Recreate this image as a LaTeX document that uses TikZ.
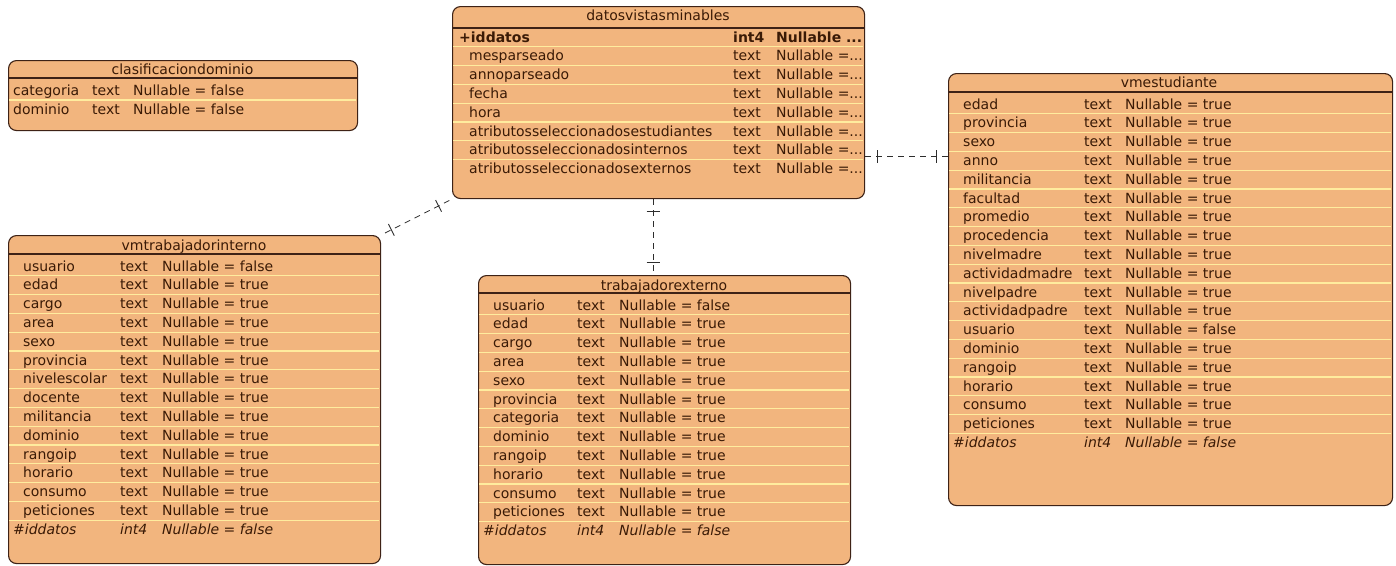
\documentclass[tikz,border=0pt]{standalone}
\usepackage{fontspec}
\setmainfont{DejaVu Sans}
\usetikzlibrary{decorations.markings}

\definecolor{tblfill}{RGB}{242,181,126}
\definecolor{tblline}{RGB}{62,34,22}
\definecolor{rowsep}{RGB}{255,236,158}
\definecolor{ink}{RGB}{58,26,6}
\definecolor{conncol}{RGB}{45,45,45}

\newcommand\tblfont{\fontsize{14}{16}\selectfont}

\tikzset{
  tblframe/.style={draw=tblline, line width=1.1pt, fill=tblfill, rounded corners=8pt,
    inner sep=0pt, anchor=north west},
  hdrline/.style={draw=tblline, line width=1.1pt},
  rowline/.style={draw=rowsep, line width=1.2pt},
  cell/.style={inner sep=0pt, anchor=base west, text=ink, font=\tblfont},
  tbltitle/.style={inner sep=0pt, anchor=base, text=ink, font=\tblfont},
  keycell/.style={cell, font=\tblfont\bfseries},
  fkcell/.style={cell, font=\tblfont\itshape},
  rel/.style={draw=conncol, line width=0.8pt, dash pattern=on 6pt off 5pt},
  onebar/.style={postaction={decorate, decoration={markings,
    mark=at position #1 with {\draw[solid, conncol, line width=0.9pt] (0,-6.5pt) -- (0,6.5pt);}}}}
}

\begin{document}
\begin{tikzpicture}[x=1pt,y=-1pt]
\fill[white] (0,0) rectangle (1396,565);
\useasboundingbox (0,0) rectangle (1396,565);

% ---------- datosvistasminables ----------
\node[tblframe, minimum width=412pt, minimum height=192pt] (datos) at (452,6) {};
\draw[hdrline] (datos.west |- 0,28) -- (datos.east |- 0,28);
\foreach \k in {0,...,6}
  \draw[rowline] (453,{46.8+18.8*\k}) -- (863,{46.8+18.8*\k});
\node[tbltitle] (datos-title) at (658,20) {datosvistasminables};
\node[keycell] (dv-n0) at (459,42) {+iddatos};
\node[keycell] (dv-t0) at (733,42) {int4};
\node[keycell] (dv-v0) at (776,42) {Nullable ...};
\foreach \n [count=\k] in {mesparseado, annoparseado, fecha, hora,
    atributosseleccionadosestudiantes, atributosseleccionadosinternos,
    atributosseleccionadosexternos} {
  \node[cell] (dv-n\k) at (469,{42+18.8*\k}) {\n};
  \node[cell] (dv-t\k) at (733,{42+18.8*\k}) {text};
  \node[cell] (dv-v\k) at (776,{42+18.8*\k}) {Nullable =...};
}

% ---------- clasificaciondominio ----------
\node[tblframe, minimum width=349pt, minimum height=70pt] (clas) at (8,60) {};
\draw[hdrline] (clas.west |- 0,78) -- (clas.east |- 0,78);
\draw[rowline] (9,100) -- (356,100);
\node[tbltitle] (clas-title) at (182.5,74.5) {clasificaciondominio};
\foreach \n [count=\k from 0] in {categoria, dominio} {
  \node[cell] (cd-n\k) at (13,{95.5+19*\k}) {\n};
  \node[cell] (cd-t\k) at (92,{95.5+19*\k}) {text};
  \node[cell] (cd-v\k) at (133,{95.5+19*\k}) {Nullable = false};
}

% ---------- vmtrabajadorinterno ----------
\node[tblframe, minimum width=372pt, minimum height=328pt] (vmti) at (8,235) {};
\draw[hdrline] (vmti.west |- 0,254) -- (vmti.east |- 0,254);
\foreach \k in {0,...,13}
  \draw[rowline] (9,{275.8+18.8*\k}) -- (379,{275.8+18.8*\k});
\node[tbltitle] (vmti-title) at (194,250) {vmtrabajadorinterno};
\foreach \n/\v [count=\k from 0] in {usuario/false, edad/true, cargo/true, area/true,
    sexo/true, provincia/true, nivelescolar/true, docente/true, militancia/true,
    dominio/true, rangoip/true, horario/true, consumo/true, peticiones/true} {
  \node[cell] (ti-n\k) at (23,{271+18.8*\k}) {\n};
  \node[cell] (ti-t\k) at (120,{271+18.8*\k}) {text};
  \node[cell] (ti-v\k) at (162,{271+18.8*\k}) {Nullable = \v};
}
\node[fkcell] (ti-n14) at (13,534.2) {\#iddatos};
\node[fkcell] (ti-t14) at (120,534.2) {int4};
\node[fkcell] (ti-v14) at (162,534.2) {Nullable = false};

% ---------- trabajadorexterno ----------
\node[tblframe, minimum width=372pt, minimum height=289pt] (tex) at (478,275) {};
\draw[hdrline] (tex.west |- 0,293) -- (tex.east |- 0,293);
\foreach \k in {0,...,11}
  \draw[rowline] (479,{314.8+18.8*\k}) -- (849,{314.8+18.8*\k});
\node[tbltitle] (tex-title) at (664,290) {trabajadorexterno};
\foreach \n/\v [count=\k from 0] in {usuario/false, edad/true, cargo/true, area/true,
    sexo/true, provincia/true, categoria/true, dominio/true, rangoip/true,
    horario/true, consumo/true, peticiones/true} {
  \node[cell] (te-n\k) at (493,{310+18.8*\k}) {\n};
  \node[cell] (te-t\k) at (577,{310+18.8*\k}) {text};
  \node[cell] (te-v\k) at (619,{310+18.8*\k}) {Nullable = \v};
}
\node[fkcell] (te-n12) at (483,535.6) {\#iddatos};
\node[fkcell] (te-t12) at (577,535.6) {int4};
\node[fkcell] (te-v12) at (619,535.6) {Nullable = false};

% ---------- vmestudiante ----------
\node[tblframe, minimum width=444pt, minimum height=432pt] (vmes) at (948,73) {};
\draw[hdrline] (vmes.west |- 0,92) -- (vmes.east |- 0,92);
\foreach \k in {0,...,17}
  \draw[rowline] (949,{113.8+18.8*\k}) -- (1391,{113.8+18.8*\k});
\node[tbltitle] (vmes-title) at (1169,87) {vmestudiante};
\foreach \n/\v [count=\k from 0] in {edad/true, provincia/true, sexo/true, anno/true,
    militancia/true, facultad/true, promedio/true, procedencia/true, nivelmadre/true,
    actividadmadre/true, nivelpadre/true, actividadpadre/true, usuario/false,
    dominio/true, rangoip/true, horario/true, consumo/true, peticiones/true} {
  \node[cell] (ve-n\k) at (963,{109+18.8*\k}) {\n};
  \node[cell] (ve-t\k) at (1084,{109+18.8*\k}) {text};
  \node[cell] (ve-v\k) at (1125,{109+18.8*\k}) {Nullable = \v};
}
\node[fkcell] (ve-n18) at (953,447.4) {\#iddatos};
\node[fkcell] (ve-t18) at (1084,447.4) {int4};
\node[fkcell] (ve-v18) at (1125,447.4) {Nullable = false};

% ---------- relationships ----------
\draw[rel, onebar=12pt, onebar=-12pt] (datos.east |- 0,156) -- (vmes.west |- 0,156);
\draw[rel, onebar=12pt, onebar=-13pt] (653,0 |- datos.south) -- (653,0 |- tex.north);
\draw[rel, onebar=7pt, onebar=-15pt] ([shift={(4,-2)}]vmti.north east) -- (datos.south west);

\end{tikzpicture}
\end{document}
